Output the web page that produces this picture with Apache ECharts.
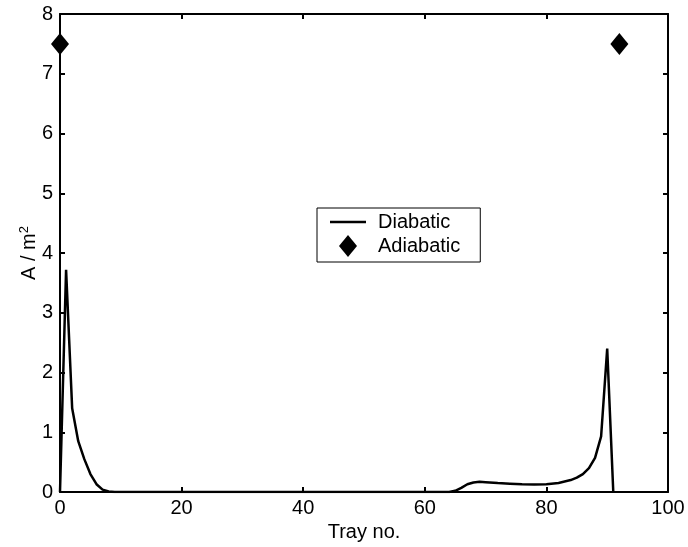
<!DOCTYPE html>
<html><head><meta charset="utf-8">
<script src="https://cdn.jsdelivr.net/npm/echarts@6/dist/echarts.min.js"></script>
<style>html,body{margin:0;padding:0;background:#fff}#c{width:688px;height:547px}</style>
</head><body><div id="c"></div>
<script>
// Diabatic: tray number and area A / m^2
const diabaticX = [0,1,2,3,4,5,6,7,8,9,10,20,30,40,50,60,64,65,66,67,68,69,70,72,74,76,78,80,82,84,85,86,87,88,89,90,91];
const diabaticY = [0,3.72,1.40,0.85,0.55,0.30,0.13,0.04,0.01,0,0,0,0,0,0,0,0,0.02,0.07,0.13,0.16,0.17,0.165,0.15,0.14,0.13,0.125,0.13,0.15,0.2,0.24,0.3,0.4,0.57,0.93,2.4,0];
// Adiabatic points
const adiabaticX = [0,92];
const adiabaticY = [7.5,7.5];
const xTicks = [0,20,40,60,80,100];
const yTicks = [0,1,2,3,4,5,6,7,8];

const font = 'Liberation Sans, Arial, sans-serif';
const FS = 20;
const chart = echarts.init(document.getElementById('c'), null, {renderer:'canvas'});
const axisCommon = {
  axisLine:{show:true,onZero:false,lineStyle:{color:'#000',width:2}},
  axisTick:{show:true,inside:true,length:5,lineStyle:{color:'#000',width:2}},
  splitLine:{show:false}
};
chart.setOption({
  animation:false,
  backgroundColor:'#fff',
  grid:{left:60,top:14,right:20,bottom:53,containLabel:false},
  legend:{
    left:317, top:208, orient:'vertical', itemGap:3, itemWidth:36, itemHeight:22,
    padding:[4,20,5,13], symbolKeepAspect:true,
    borderColor:'#000', borderWidth:1, backgroundColor:'#fff',
    textStyle:{fontFamily:font,fontSize:FS,color:'#000',padding:[0,0,0,7]},
    data:[{name:'Diabatic',icon:'path://M0,0 L36,0 L36,2.5 L0,2.5 Z'},
          {name:'Adiabatic',icon:'path://M9,0 L18,11 L9,22 L0,11 Z'}]
  },
  xAxis:[
    Object.assign({type:'value',min:0,max:100,interval:20,position:'bottom',
      name:'Tray no.',nameLocation:'middle',nameGap:30,nameMoveOverlap:false,
      nameTextStyle:{fontFamily:font,fontSize:FS,color:'#000'},
      axisLabel:{fontFamily:font,fontSize:FS,color:'#000',margin:6,
        formatter:v=>xTicks.includes(v)?String(v):''}},axisCommon),
    Object.assign({type:'value',min:0,max:100,interval:20,position:'top',axisLabel:{show:false}},axisCommon)
  ],
  yAxis:[
    Object.assign({type:'value',min:0,max:8,interval:1,position:'left',
      name:'A / m{s|2}',nameLocation:'middle',nameGap:20,nameRotate:90,nameMoveOverlap:false,
      nameTextStyle:{fontFamily:font,fontSize:FS,color:'#000',
        rich:{s:{fontFamily:font,fontSize:13,color:'#000',verticalAlign:'bottom',padding:[0,0,9,0]}}},
      axisLabel:{fontFamily:font,fontSize:FS,color:'#000',margin:7,
        formatter:v=>yTicks.includes(v)?String(v):''}},axisCommon),
    Object.assign({type:'value',min:0,max:8,interval:1,position:'right',axisLabel:{show:false}},axisCommon)
  ],
  series:[
    {name:'Diabatic',type:'line',xAxisIndex:0,yAxisIndex:0,showSymbol:false,symbol:'none',
      lineStyle:{color:'#000',width:2.5},itemStyle:{color:'#000'},
      data:diabaticX.map((x,i)=>[x,diabaticY[i]])},
    {name:'Adiabatic',type:'scatter',xAxisIndex:0,yAxisIndex:0,symbol:'diamond',symbolSize:[18,22],
      itemStyle:{color:'#000',opacity:1},
      data:adiabaticX.map((x,i)=>[x,adiabaticY[i]])}
  ]
});
</script></body></html>
